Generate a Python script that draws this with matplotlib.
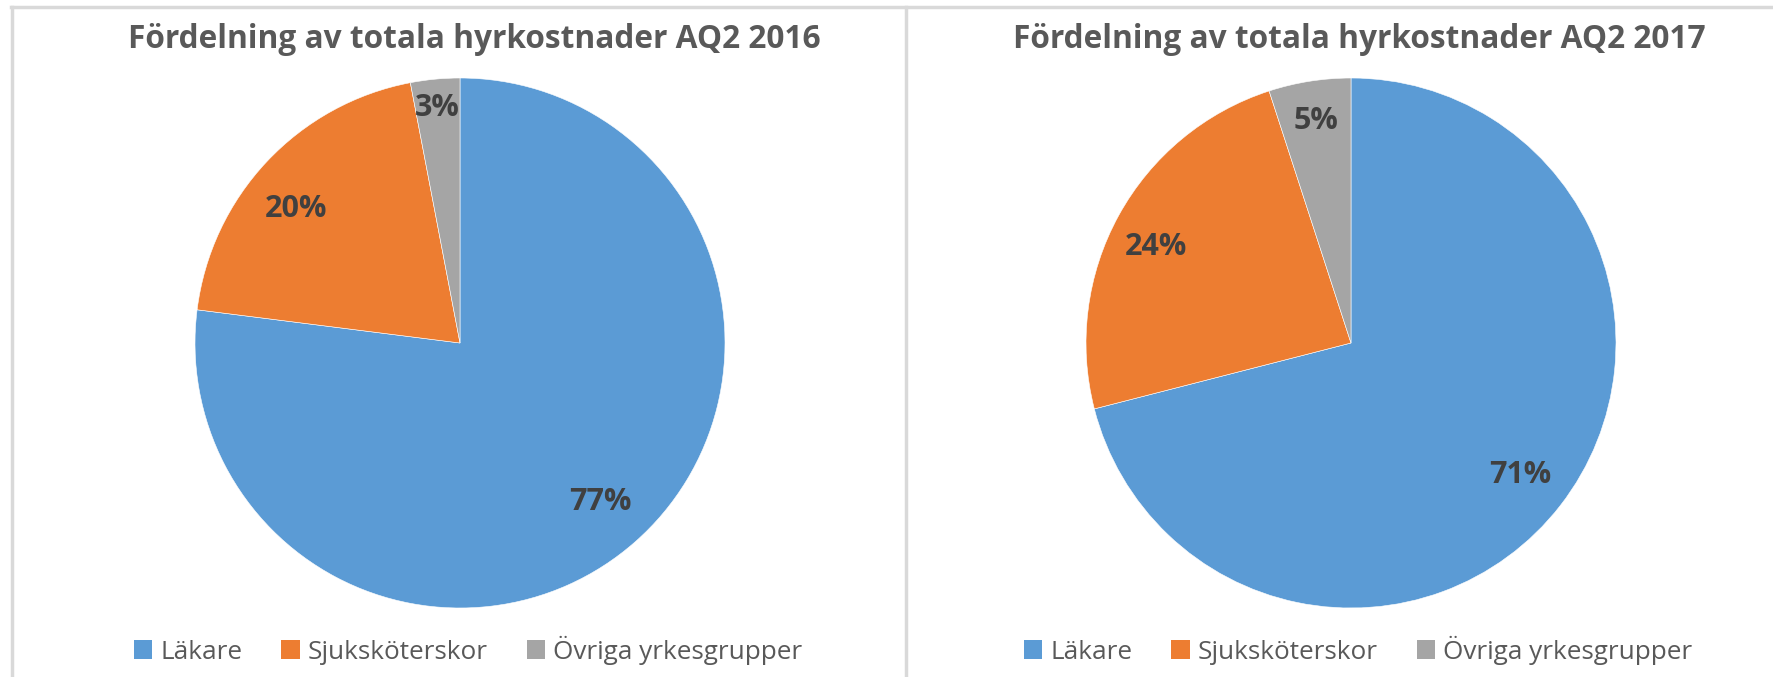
import numpy as np
import matplotlib.pyplot as plt
from matplotlib.patches import Patch
from matplotlib.lines import Line2D

plt.rcParams['font.family'] = ['Liberation Sans Narrow', 'Open Sans', 'DejaVu Sans']

categories = ['Läkare', 'Sjuksköterskor', 'Övriga yrkesgrupper']
values_2016 = [77, 20, 3]
values_2017 = [71, 24, 5]
titles = ['Fördelning av totala hyrkostnader AQ2 2016',
          'Fördelning av totala hyrkostnader AQ2 2017']
colors = ['#5B9BD5', '#ED7D31', '#A5A5A5']

W, H = 1773, 677
fig = plt.figure(figsize=(W / 100, H / 100), dpi=100)

# panel borders (light gray frame like the excel chart areas)
border = '#D9D9D9'
fig.add_artist(Line2D([11 / W, 1], [1 - 6.5 / H, 1 - 6.5 / H], color=border, lw=2.5))
fig.add_artist(Line2D([11.5 / W, 11.5 / W], [0, 1 - 6.5 / H], color=border, lw=2.5))
fig.add_artist(Line2D([905.5 / W, 905.5 / W], [0, 1 - 6.5 / H], color=border, lw=2.5))

centers_x = [460, 1351]
center_y = 343
radius = 265
# excel "best fit" label placement: distance (fraction of radius) and angle nudge
label_dist = [[0.80, 0.80, 0.89], [0.81, 0.82, 0.85]]
label_nudge = [[0, 4, 0], [0, 2.5, 0]]
title_x = [474, 1359]
legend_x = [468, 1358]

for k, vals in enumerate([values_2016, values_2017]):
    ax = fig.add_axes([(centers_x[k] - radius) / W, (H - center_y - radius) / H,
                       2 * radius / W, 2 * radius / H])
    wedges, _ = ax.pie(vals, colors=colors, startangle=90, counterclock=False,
                       wedgeprops=dict(edgecolor='white', linewidth=0.4))
    for i, w in enumerate(wedges):
        ang = np.deg2rad((w.theta1 + w.theta2) / 2 + label_nudge[k][i])
        d = label_dist[k][i]
        ax.text(d * np.cos(ang), d * np.sin(ang), f'{vals[i]}%', ha='center', va='center',
                fontsize=22, fontweight='bold', color='#404040')
    ax.set_xlim(-1, 1)
    ax.set_ylim(-1, 1)
    fig.text(title_x[k] / W, 1 - 39 / H, titles[k], ha='center', va='center',
             fontsize=22.8, fontweight='bold', color='#595959')
    handles = [Patch(facecolor=c, edgecolor='none') for c in colors]
    fig.legend(handles, categories, loc='center', bbox_to_anchor=(legend_x[k] / W, 1 - 650 / H),
               ncol=3, frameon=False, fontsize=18.8, labelcolor='#595959',
               handlelength=0.7, handleheight=0.7, handletextpad=0.3, columnspacing=1.5)

fig.savefig('out.png', dpi=100, facecolor='white')
